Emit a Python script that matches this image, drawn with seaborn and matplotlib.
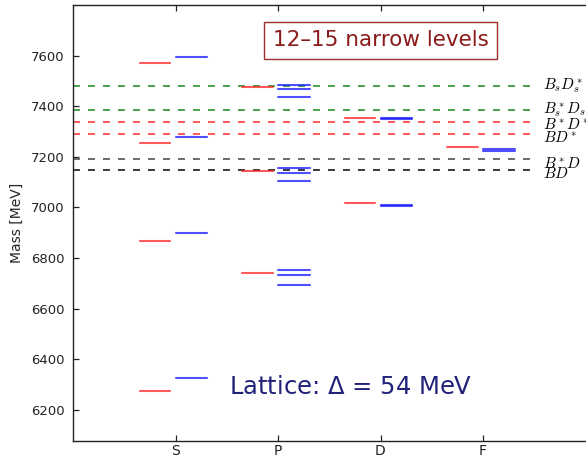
import numpy as np
import pandas as pd
import matplotlib
matplotlib.use("Agg")
import matplotlib.pyplot as plt
import matplotlib.transforms as mtransforms
import seaborn as sns

# ---- data (MeV) ----
waves = ["S", "P", "D", "F"]
exp_S = [6275, 6865, 7253, 7572]
lat_S = [6327, 6897, 7280, 7596]
exp_P = [6739, 7145, 7474]
lat_P = [6693, 6731, 6751, 7106, 7137, 7155, 7438, 7466, 7483]
exp_D = [7016, 7355]
lat_D = [7005, 7011, 7348, 7353]
exp_F = [7238]
lat_F = [7222, 7232]

thr_labels = [r"$B_sD_s^*$", r"$B_s^*D_s$", r"$B^*D^*$", r"$BD^*$", r"$B^*D$", r"$BD$"]
thr_values = [7480, 7383, 7336, 7290, 7191, 7146]
thr_colors = ["#3a9a3a", "#3a9a3a", "#ff4a4a", "#ff4a4a", "#606060", "#2a2a2a"]
# label baseline offsets below each line (points) - layout only
thr_label_dy = [-2.2, -2.2, -5.0, -5.8, -6.2, -5.8]

yticks = [6200, 6400, 6600, 6800, 7000, 7200, 7400, 7600]

box_text = "12–15 narrow levels"
lat_text = r"Lattice: $\Delta$ = 54 MeV"

# ---- build segment table ----
exp_all = [exp_S, exp_P, exp_D, exp_F]
lat_all = [lat_S, lat_P, lat_D, lat_F]
rows = []
lid = 0
for i, w in enumerate(waves):
    c = i + 1
    for m in exp_all[i]:
        for xx in (c - 0.35, c - 0.05):
            rows.append(dict(x=xx, mass=m, kind="exp", lid=lid))
        lid += 1
    for m in lat_all[i]:
        for xx in (c, c + 0.31):
            rows.append(dict(x=xx, mass=m, kind="lat", lid=lid))
        lid += 1
df = pd.DataFrame(rows)

sns.set_style("ticks")
plt.rcParams["font.family"] = ["DejaVu Sans"]
plt.rcParams["mathtext.fontset"] = "dejavusans"
plt.rcParams["lines.scale_dashes"] = False

fig = plt.figure(figsize=(5.86, 4.59), dpi=100)
ax = fig.add_axes([73 / 586, 17.7 / 459, (585.5 - 73) / 586, (441.3 - 5) / 459])

# thresholds
for v, col in zip(thr_values, thr_colors):
    ax.hlines(v, 0, 4.5, colors=col, linestyles=(0, (5, 5.8)), linewidth=1.3)

sns.lineplot(data=df, x="x", y="mass", hue="kind", units="lid", estimator=None,
             palette={"exp": "#ff2020", "lat": "#1515ff"}, linewidth=1.5,
             alpha=0.75, legend=False, ax=ax, sort=False)

for lab, v, dy in zip(thr_labels, thr_values, thr_label_dy):
    tr = ax.transData + mtransforms.ScaledTranslation(0, dy / 72.0, fig.dpi_scale_trans)
    ax.text(4.59, v, lab, ha="left", va="baseline", fontsize=11, color="black",
            math_fontfamily="cm", transform=tr, clip_on=False)

ax.text(3.0, 7660, box_text, ha="center", va="center", fontsize=15.5,
        color="#8b1a1a",
        bbox=dict(boxstyle="square,pad=0.38", fc="white", ec="#9b3030", lw=1.0))
ax.text(1.52, 6290, lat_text, ha="left", va="center", fontsize=17.5,
        color="#22227a")

ax.set_xlim(0, 5)
ax.set_ylim(6075, 7800)
ax.set_xticks([1, 2, 3, 4])
ax.set_xticklabels(waves)
ax.set_yticks(yticks)
ax.set_xlabel("")
ax.set_ylabel("Mass [MeV]", fontsize=10)
ax.yaxis.set_label_coords(-0.095, 0.5)

for s in ["left", "bottom", "top"]:
    ax.spines[s].set_visible(True)
    ax.spines[s].set_color("#222222")
    ax.spines[s].set_linewidth(1.0)
ax.spines["right"].set_visible(False)
ax.tick_params(axis="both", direction="in", length=4, width=0.9, labelsize=9.5,
               colors="#222222")
ax.tick_params(axis="x", top=True, bottom=True, pad=2, labelsize=10)
ax.tick_params(axis="y", left=True, right=False, pad=6)

fig.savefig("out.png", dpi=100)
